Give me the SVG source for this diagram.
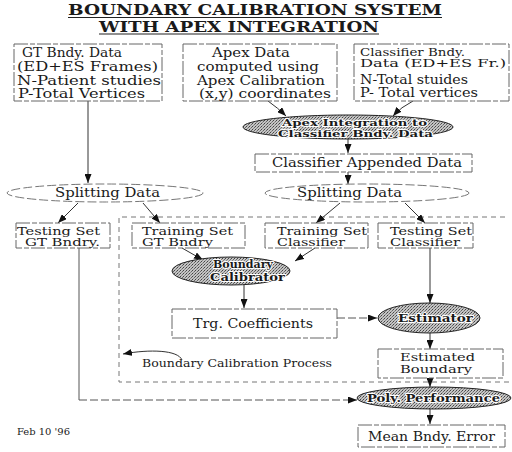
<svg xmlns="http://www.w3.org/2000/svg" width="512" height="452" viewBox="0 0 512 452">
<style>
text{font-family:"DejaVu Serif","Liberation Serif",serif;fill:#1a1a1a}
.t{font-size:12px}
.t2{font-size:10.5px}
.title{font-size:14px;font-weight:bold}
.box{fill:#fff;stroke:#666;stroke-width:1;stroke-dasharray:14 2 5 2}
.sh{fill:url(#ht);stroke:#222;stroke-width:1}
.st{font-size:11px;font-weight:bold;stroke:#fff;stroke-width:2px;paint-order:stroke;stroke-linejoin:round}
.st2{font-size:10px;font-weight:bold;stroke:#fff;stroke-width:2px;paint-order:stroke;stroke-linejoin:round}
.sp{fill:#fff;stroke:#777;stroke-width:1;stroke-dasharray:9 3}
.c{fill:none;stroke:#333;stroke-width:1;marker-end:url(#ah)}
.cd{fill:none;stroke:#555;stroke-width:1;stroke-dasharray:8 3;marker-end:url(#ah)}
.ln{fill:none;stroke:#555;stroke-width:1}
.reg{fill:none;stroke:#777;stroke-width:1;stroke-dasharray:5 4}
</style>
<defs>
<pattern id="ht" width="3" height="3" patternUnits="userSpaceOnUse">
<rect width="3" height="3" fill="#c4c4c4"/>
<rect width="1" height="1" fill="#444"/>
<rect x="2" y="1" width="1" height="1" fill="#666"/>
<rect x="1" y="2" width="1" height="1" fill="#888"/>
</pattern>
<marker id="ah" viewBox="0 0 9 7" refX="9" refY="3.5" markerWidth="9" markerHeight="7" orient="auto" markerUnits="userSpaceOnUse">
<path d="M0,0 L9,3.5 L0,7 z" fill="#111"/>
</marker>
</defs>
<rect width="512" height="452" fill="#fff"/>

<g id="title">
<text class="title" x="68" y="15" textLength="374" lengthAdjust="spacingAndGlyphs">BOUNDARY CALIBRATION SYSTEM</text>
<text class="title" x="99" y="31.5" textLength="280" lengthAdjust="spacingAndGlyphs">WITH APEX INTEGRATION</text>
<line x1="68" y1="17.5" x2="442" y2="17.5" stroke="#222" stroke-width="1.2"/>
<line x1="99" y1="34" x2="379" y2="34" stroke="#222" stroke-width="1.2"/>
</g>

<g id="region">
<path class="reg" d="M505 217 H119 V382 H512"/>
<text x="142" y="367" font-size="10.5" textLength="190" lengthAdjust="spacingAndGlyphs">Boundary Calibration Process</text>
<path class="c" d="M182 360 C178 350 150 349 123 354"/>
</g>

<g id="connectors">
<path class="c" d="M88 101 V183"/>
<path class="c" d="M268 101 Q278 108 286 116"/>
<path class="c" d="M413 101 Q401 107 393 116"/>
<path class="c" d="M348 139 V153"/>
<path class="c" d="M348 172 V184"/>
<path class="c" d="M78 203 L58 223"/>
<path class="c" d="M143 203 L160 223"/>
<path class="c" d="M340 203 L316 223"/>
<path class="c" d="M405 203 L425 223"/>
<path class="c" d="M182 248 L203 260"/>
<path class="c" d="M315 248 L295 261"/>
<path class="c" d="M244 285 V308"/>
<path class="cd" d="M337 318 H377"/>
<path class="c" d="M430 248 V303"/>
<path class="c" d="M430 333 V349"/>
<path class="c" d="M430 378 V387"/>
<path class="ln" d="M79 248 V400"/>
<path class="cd" d="M79 400 H357"/>
<path class="c" d="M430 409 V424"/>
</g>

<g id="gt-data">
<rect class="box" x="14" y="44" width="148" height="57"/>
<text class="t" x="22" y="57" textLength="100" lengthAdjust="spacingAndGlyphs">GT Bndy. Data</text>
<text class="t" x="17" y="71" textLength="141" lengthAdjust="spacingAndGlyphs">(ED+ES Frames)</text>
<text class="t" x="17" y="85" textLength="144" lengthAdjust="spacingAndGlyphs">N-Patient studies</text>
<text class="t" x="18" y="98" textLength="127" lengthAdjust="spacingAndGlyphs">P-Total Vertices</text>
</g>

<g id="apex-data">
<rect class="box" x="183" y="44" width="154" height="57"/>
<text class="t" x="212" y="57" textLength="78" lengthAdjust="spacingAndGlyphs">Apex Data</text>
<text class="t" x="197" y="71" textLength="122" lengthAdjust="spacingAndGlyphs">computed using</text>
<text class="t" x="197" y="85" textLength="128" lengthAdjust="spacingAndGlyphs">Apex Calibration</text>
<text class="t" x="199" y="98" textLength="132" lengthAdjust="spacingAndGlyphs">(x,y) coordinates</text>
</g>

<g id="classifier-data">
<rect class="box" x="354" y="44" width="155" height="57"/>
<text class="t2" x="360" y="56" textLength="105" lengthAdjust="spacingAndGlyphs">Classifier Bndy.</text>
<text class="t2" x="360" y="67" textLength="146" lengthAdjust="spacingAndGlyphs">Data (ED+ES Fr.)</text>
<text class="t" x="360" y="84" textLength="108" lengthAdjust="spacingAndGlyphs">N-Total stuides</text>
<text class="t" x="360" y="97" textLength="118" lengthAdjust="spacingAndGlyphs">P- Total vertices</text>
</g>

<g id="apex-integration">
<ellipse class="sh" cx="348" cy="127" rx="105" ry="12"/>
<text class="st2" x="282" y="125.5" textLength="145" lengthAdjust="spacingAndGlyphs">Apex Integration to</text>
<text class="st2" x="278" y="136.5" textLength="155" lengthAdjust="spacingAndGlyphs">Classifier Bndy. Data</text>
</g>

<g id="classifier-appended">
<rect class="box" x="255" y="154" width="217" height="18"/>
<text class="t" x="272" y="167" textLength="190" lengthAdjust="spacingAndGlyphs">Classifier Appended Data</text>
</g>

<g id="split-left">
<ellipse class="sp" cx="105" cy="193" rx="98" ry="9"/>
<text class="t" x="55" y="197" textLength="105" lengthAdjust="spacingAndGlyphs">Splitting Data</text>
</g>

<g id="split-right">
<ellipse class="sp" cx="367" cy="193" rx="102" ry="9"/>
<text class="t" x="297" y="197" textLength="105" lengthAdjust="spacingAndGlyphs">Splitting Data</text>
</g>

<g id="testing-gt">
<rect class="box" x="16" y="223" width="94" height="25"/>
<text class="t2" x="17" y="234.5" textLength="83" lengthAdjust="spacingAndGlyphs">Testing Set</text>
<text class="t2" x="25" y="245.5" textLength="75" lengthAdjust="spacingAndGlyphs">GT Bndry.</text>
</g>

<g id="training-gt">
<rect class="box" x="132" y="223" width="113" height="25"/>
<text class="t2" x="142" y="234.5" textLength="91" lengthAdjust="spacingAndGlyphs">Training Set</text>
<text class="t2" x="142" y="245.5" textLength="71" lengthAdjust="spacingAndGlyphs">GT Bndry</text>
</g>

<g id="training-classifier">
<rect class="box" x="265" y="223" width="103" height="25"/>
<text class="t2" x="277" y="234.5" textLength="90" lengthAdjust="spacingAndGlyphs">Training Set</text>
<text class="t2" x="277" y="245.5" textLength="68" lengthAdjust="spacingAndGlyphs">Classifier</text>
</g>

<g id="testing-classifier">
<rect class="box" x="378" y="223" width="95" height="25"/>
<text class="t2" x="390" y="234.5" textLength="82" lengthAdjust="spacingAndGlyphs">Testing Set</text>
<text class="t2" x="390" y="245.5" textLength="70" lengthAdjust="spacingAndGlyphs">Classifier</text>
</g>

<g id="boundary-calibrator">
<ellipse class="sh" cx="231" cy="271" rx="59" ry="14"/>
<text class="st" x="213" y="268" textLength="60" lengthAdjust="spacingAndGlyphs">Boundary</text>
<text class="st" x="210" y="281" textLength="75" lengthAdjust="spacingAndGlyphs">Calibrator</text>
</g>

<g id="trg-coefficients">
<rect class="box" x="172" y="309" width="165" height="29"/>
<text class="t" x="193" y="328" textLength="120" lengthAdjust="spacingAndGlyphs">Trg. Coefficients</text>
</g>

<g id="estimator">
<ellipse class="sh" cx="429" cy="318" rx="51" ry="15"/>
<text class="st" x="398" y="322" textLength="75" lengthAdjust="spacingAndGlyphs">Estimator</text>
</g>

<g id="estimated-boundary">
<rect class="box" x="378" y="349" width="125" height="29"/>
<text class="t2" x="400" y="361" textLength="75" lengthAdjust="spacingAndGlyphs">Estimated</text>
<text class="t2" x="400" y="373" textLength="72" lengthAdjust="spacingAndGlyphs">Boundary</text>
</g>

<g id="poly-performance">
<ellipse class="sh" cx="434" cy="398" rx="77" ry="11"/>
<text class="st" x="367" y="402" textLength="133" lengthAdjust="spacingAndGlyphs">Poly. Performance</text>
</g>

<g id="mean-error">
<rect class="box" x="358" y="425" width="147" height="22"/>
<text class="t" x="368" y="441" textLength="127" lengthAdjust="spacingAndGlyphs">Mean Bndy. Error</text>
</g>

<text x="17" y="435" font-size="8.5" textLength="53" lengthAdjust="spacingAndGlyphs">Feb 10 '96</text>
</svg>
